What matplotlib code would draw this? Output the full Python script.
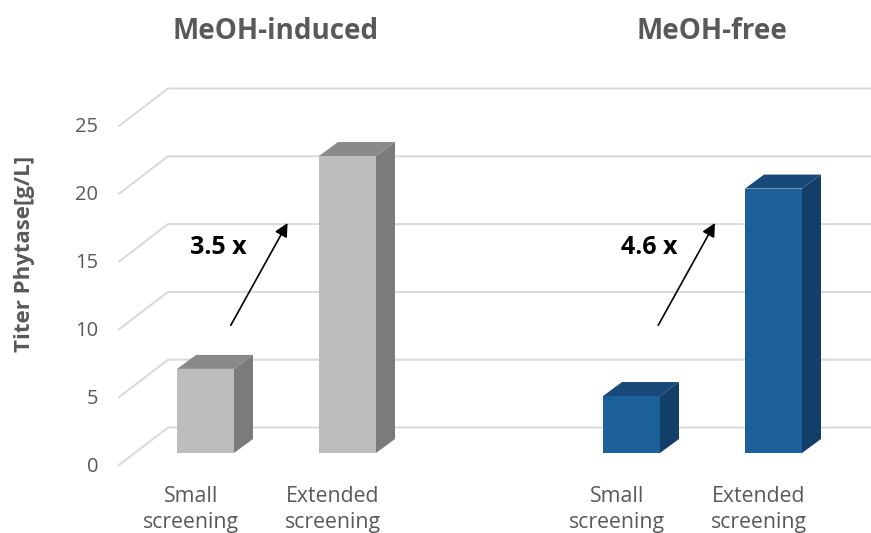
import matplotlib.pyplot as plt

plt.rcParams['font.family'] = ['Open Sans', 'DejaVu Sans']

# values
positions = [0, 1, 3, 4]
labels = ['Small\nscreening', 'Extended\nscreening', 'Small\nscreening', 'Extended\nscreening']
titers = [6.2, 21.9, 4.2, 19.5]
y_ticks = [0, 5, 10, 15, 20, 25]
group_titles = ['MeOH-induced', 'MeOH-free']
fold_changes = ['3.5 x', '4.6 x']

W, H = 871, 533
slot = 142.0      # px per category
unit = 13.56      # px per g/L
x0_px = 191.0     # px of category 0, front plane
y0_px = 465.0     # px of value 0, front plane

fig = plt.figure(figsize=(W / 100, H / 100), dpi=100)
ax = fig.add_axes([0, 0, 1, 1])
ax.set_xlim(-x0_px / slot, (W - x0_px) / slot)
ax.set_ylim(-(H - y0_px) / unit, y0_px / unit)
ax.axis('off')

# depth of the 3D look, in data units
floor_dx = 49 / slot
floor_dy = 37.5 / unit
bar_dx = 19 / slot
bar_dy = 14 / unit
# front face of the bars sits a bit behind the front plane
bar_shift_x = 14.5 / slot
bar_base = 12 / unit
bar_w = 57 / slot

grid_color = '#d9d9d9'
left = -0.5 - 1 / slot  # left end of the floor
for t in y_ticks:
    ax.plot([left, left + floor_dx, ax.get_xlim()[1]],
            [t, t + floor_dy, t + floor_dy], color=grid_color, linewidth=1.4, zorder=1)
    ax.text(98 / slot - x0_px / slot, t - 1.5 / unit, str(t), ha='right', va='center',
            fontsize=14.5, color='#595959')

colors = [('#bdbdbd', '#8a8a8a', '#7b7b7b'), ('#bdbdbd', '#8a8a8a', '#7b7b7b'),
          ('#1b5f9b', '#174a78', '#133e68'), ('#1b5f9b', '#174a78', '#133e68')]

for p, v, c in zip(positions, titers, colors):
    x1 = p + bar_shift_x - bar_w / 2
    x2 = x1 + bar_w
    y1 = bar_base
    y2 = v + bar_base
    ax.fill([x1, x2, x2, x1], [y1, y1, y2, y2], color=c[0], linewidth=0, zorder=3)
    ax.fill([x1, x2, x2 + bar_dx, x1 + bar_dx], [y2, y2, y2 + bar_dy, y2 + bar_dy],
            color=c[1], linewidth=0, zorder=3)
    ax.fill([x2, x2 + bar_dx, x2 + bar_dx, x2], [y1, y1 + bar_dy, y2 + bar_dy, y2],
            color=c[2], linewidth=0, zorder=3)

for p, lab in zip(positions, labels):
    ax.text(p, -3.25, lab, ha='center', va='center', fontsize=15.3, color='#595959',
            linespacing=1.32)

ax.text(0.595, 31.98, group_titles[0], ha='center', va='center', fontsize=20,
        fontweight='bold', color='#595959')
ax.text(3.67, 31.98, group_titles[1], ha='center', va='center', fontsize=20,
        fontweight='bold', color='#595959')

for shift, shift_txt, txt in zip([0, 3.01], [0, 3.04], fold_changes):
    ax.annotate('', xy=(0.68 + shift, 17.85), xytext=(0.28 + shift, 10.3),
                arrowprops=dict(arrowstyle='-|>', color='black', linewidth=1.2,
                                mutation_scale=20, shrinkA=0, shrinkB=0), zorder=4)
    ax.text(0.19 + shift_txt, 16.05, txt, ha='center', va='center', fontsize=18,
            fontweight='bold', color='black', zorder=5)

ax.text(-1.175, 15.57, 'Titer Phytase[g/L]', rotation=90, ha='center', va='center',
        fontsize=16, fontweight='bold', color='#595959')

fig.savefig('out.png', dpi=100)
